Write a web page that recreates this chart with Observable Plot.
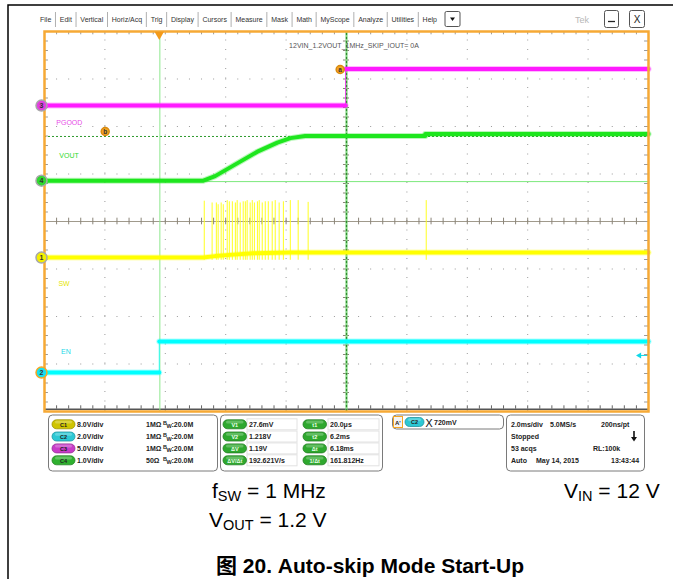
<!DOCTYPE html>
<html><head><meta charset="utf-8">
<script src="https://cdn.jsdelivr.net/npm/d3@7"></script>
<script src="https://cdn.jsdelivr.net/npm/@observablehq/plot@0.6"></script>
<style>
body{margin:0;background:#fff;}
#chart{position:relative;width:673px;height:579px;}
</style>
</head><body><div id="chart"></div>
<script>
// ---------------- data ----------------
const menuItems = ["File","Edit","Vertical","Horiz/Acq","Trig","Display","Cursors","Measure","Mask","Math","MyScope","Analyze","Utilities","Help"];
const scopeTitle = "12VIN_1.2VOUT_1MHz_SKIP_IOUT= 0A";
const channelIds = ["1","2","3","4"];
const channelNames = ["SW","EN","PGOOD","VOUT"];
const voltsPerDiv = [8.0, 2.0, 5.0, 1.0];
const channelPosDiv = [-0.76, -3.18, 2.44, 0.86];
const channelImpedance = ["1MΩ","1MΩ","1MΩ","50Ω"];
const bandwidth = "20.0M";
const timePerDiv = 2.0;          // ms/div
const cursorTimes = [0.02, 6.2]; // ms
const cursorLevelsDiv = [0.84, 1.79];
const triggerLevel = 0.72;       // V on C2

// traces (time in ms, values in volts)
const swTime  = [-3.8, 1.46, 1.85, 2.45, 3.1, 4.3, 16.2];
const swVolts = [0, 0, 0.25, 0.5, 0.75, 0.84, 0.84];
const spikeTimes = [1.49,1.75,1.89,1.95,2.05,2.12,2.25,2.32,2.42,2.52,2.58,2.68,2.78,2.85,2.91,3.01,3.08,3.15,3.25,3.31,3.41,3.51,3.61,3.74,3.84,3.97,4.11,4.34,4.60,4.93,8.84];
const spikePeaks = [9.5,9.2,9.2,8.9,9.2,8.9,9.6,9.4,9.4,9.2,9.6,9.2,9.4,9.4,9.6,9.2,9.6,9.2,9.4,9.6,9.2,9.4,9.4,9.4,9.6,9.2,9.4,9.6,9.6,9.3,9.6];
const enTime  = [-3.8, 0.0, 0.0, 16.2];
const enVolts = [0, 0, 1.31, 1.31];
const pgTime  = [-3.8, 6.17, 6.17, 16.2];
const pgVolts = [0, 0, 3.85, 3.85];
const voutTime  = [-3.8, 1.46, 1.85, 2.45, 3.25, 3.91, 4.34, 4.83, 8.81, 8.81, 16.2];
const voutVolts = [0, 0, 0.095, 0.316, 0.61, 0.80, 0.895, 0.94, 0.94, 0.98, 0.98];

// readouts
const measLabels1 = ["V1","V2","ΔV","ΔV/Δt"];
const measValues1 = ["27.6mV","1.218V","1.19V","192.621V/s"];
const measLabels2 = ["t1","t2","Δt","1/Δt"];
const measValues2 = ["20.0μs","6.2ms","6.18ms","161.812Hz"];
const trigText = "720mV";
const acqLines = [["2.0ms/div","5.0MS/s","200ns/pt"],["Stopped","",""],["53 acqs","","RL:100k"],["Auto","May 14, 2015","13:43:44"]];

// ---------------- setup ----------------
const traceColors = ["#ffff00","#00ffff","#ff1aff","#1ee61e"];
const markerFill  = ["#f4f000","#18e0f0","#e040e0","#30d830"];
const markerRing  = ["#a8a8a8","#f5a623","#a8a8a8","#a8a8a8"];
const pillColors  = ["#cfc400","#2cc8d4","#c83cc8","#2fb02f"];
const chIdx = {sw:0,en:1,pg:2,vout:3};
const toDiv = (c, v) => channelPosDiv[c] + v / voltsPerDiv[c];
// split at repeated times (fast edges) into separate segments
const mk = (c, ts, vs) => {
  let seg = 0;
  return ts.map((t,i) => { if (i > 0 && t === ts[i-1]) seg++; return {t, y: toDiv(c, vs[i]), seg}; });
};
const edges = (data) => data.slice(1).filter((d,i) => d.t === data[i].t).map((d,i) => {
  const prev = data[data.indexOf(d) - 1];
  return {t: d.t, y1: prev.y, y2: d.y};
});

const tDomain = [-5 * timePerDiv + cursorTimes[1], 5 * timePerDiv + cursorTimes[1]];
const tCenter = (tDomain[0] + tDomain[1]) / 2;
const majorT = d3.range(1,10).map(k => tDomain[0] + k*timePerDiv).filter(t => Math.abs(t - tCenter) > 1e-6);
const majorY = [-3,-2,-1,1,2,3];
const minorT = d3.range(0,51).map(k => tDomain[0] + k*timePerDiv/5);
const minorY = d3.range(0,41).map(k => -4 + k*0.2);

const swData = mk(chIdx.sw, swTime, swVolts);
const enData = mk(chIdx.en, enTime, enVolts);
const pgData = mk(chIdx.pg, pgTime, pgVolts);
const voData = mk(chIdx.vout, voutTime, voutVolts);
const spikes = spikeTimes.map((t,i) => ({t, y1: toDiv(0, -0.45), y2: toDiv(0, spikePeaks[i])}));
const markers = channelIds.map((n,i) => ({n, y: channelPosDiv[i], fill: markerFill[i], ring: markerRing[i], col: traceColors[i]}));
const labels = [
  {t:-3.41, y:2.08, s:channelNames[2], c:"#e84ce8"},
  {t:-3.31, y:1.39, s:channelNames[3], c:"#2ed82e"},
  {t:-3.34, y:-1.31, s:channelNames[0], c:"#e6e600"},
  {t:-3.25, y:-2.74, s:channelNames[1], c:"#20d8e8"}
];
const trigDiv = toDiv(chIdx.en, triggerLevel);

const F = "Liberation Sans, Arial, Helvetica, sans-serif";
const tickLen = 0.07;
const tickLenT = 0.1;

const trace = (data, color) => [
  Plot.ruleX(edges(data), {x: "t", y1: "y1", y2: "y2", stroke: color, strokeWidth: 1, strokeOpacity: 0.8}),
  Plot.line(data, {x:"t", y:"y", z:"seg", stroke: color, strokeWidth: 6, strokeOpacity: 0.3}),
  Plot.line(data, {x:"t", y:"y", z:"seg", stroke: color, strokeWidth: 4})
];

const chart = Plot.plot({
  width: 673, height: 579,
  marginLeft: 44, marginRight: 25, marginTop: 31, marginBottom: 168,
  style: {background: "white", overflow: "visible", fontFamily: F},
  x: {domain: tDomain, axis: null},
  y: {domain: [-4, 4], axis: null},
  marks: [
    // dotted graticule
    Plot.ruleX(majorT, {x: d => d, y1: () => -4, y2: () => 4, stroke: "#9a9a9a", strokeDasharray: "1,8.5"}),
    Plot.ruleY(majorY, {y: d => d, x1: () => tDomain[0], x2: () => tDomain[1], stroke: "#9a9a9a", strokeDasharray: "1,11.08"}),
    // center lines
    Plot.ruleY([0], {y: d => d, x1: () => tDomain[0], x2: () => tDomain[1], stroke: "#a09a8c", strokeWidth: 1.2}),
    Plot.ruleX([tCenter], {x: d => d, y1: () => -4, y2: () => 4, stroke: "#a09a8c", strokeWidth: 1.2}),
    Plot.ruleX(minorT, {x: d => d, y1: () => -tickLen, y2: () => tickLen, stroke: "#8a8478"}),
    Plot.ruleY(minorY, {y: d => d, x1: () => tCenter - tickLenT, x2: () => tCenter + tickLenT, stroke: "#8a8478"}),
    // border ticks
    Plot.ruleX(minorT, {x: d => d, y1: () => 4, y2: () => 4 - tickLen, stroke: "#999"}),
    Plot.ruleX(minorT, {x: d => d, y1: () => -3.95, y2: () => -3.95 + tickLen, stroke: "#666"}),
    Plot.ruleY([-3.95], {y: d => d, x1: () => tDomain[0], x2: () => tDomain[1], stroke: "#555", strokeWidth: 1.5}),
    Plot.ruleY(minorY, {y: d => d, x1: () => tDomain[0], x2: () => tDomain[0] + tickLenT*1.3, stroke: "#999"}),
    Plot.ruleY(minorY, {y: d => d, x1: () => tDomain[1], x2: () => tDomain[1] - tickLenT*1.3, stroke: "#999"}),
    // cursors
    Plot.ruleY([cursorLevelsDiv[0]], {y: d => d, x1: () => tDomain[0], x2: () => tDomain[1], stroke: "#7ce87c", strokeWidth: 1}),
    Plot.ruleY([cursorLevelsDiv[1]], {y: d => d, x1: () => tDomain[0], x2: () => tDomain[1], stroke: "#2e9a2e", strokeWidth: 1, strokeDasharray: "2,2"}),
    Plot.ruleX([cursorTimes[0]], {x: d => d, y1: () => -4, y2: () => 4, stroke: "#8ee88e", strokeWidth: 1}),
    Plot.ruleX([cursorTimes[1]], {x: d => d, y1: () => -4, y2: () => 4, stroke: "#7ed87e", strokeWidth: 2}),
    Plot.ruleX([cursorTimes[1]], {x: d => d, y1: () => -4, y2: () => 4, stroke: "#2e8a2e", strokeWidth: 1.2, strokeDasharray: "2,2"}),
    // spikes
    Plot.ruleX(spikes, {x: "t", y1: "y1", y2: "y2", stroke: "#ffff20", strokeWidth: 1}),
    // traces
    ...trace(pgData, traceColors[2]),
    ...trace(voData, traceColors[3]),
    ...trace(swData, traceColors[0]),
    ...trace(enData, traceColors[1]),
    // channel labels
    Plot.text(labels, {x: "t", y: "y", text: "s", fill: "c", fontSize: 7, textAnchor: "start"}),
    Plot.text([scopeTitle], {x: () => 4.3, y: () => 3.71, text: d => d, fill: "#555", fontSize: 7, textAnchor: "start"}),
    // a / b cursor markers
    Plot.dot(["a"], {x: () => 5.99, y: () => 3.2, r: 4, fill: "#f5a623", stroke: "#d88a10"}),
    Plot.text(["a"], {x: () => 5.99, y: () => 3.2, text: d => d, fontSize: 6.5, fontWeight: "bold", fill: "#333"}),
    Plot.dot(["b"], {x: () => -1.79, y: () => 1.895, r: 4, fill: "#f5a623", stroke: "#d88a10"}),
    Plot.text(["b"], {x: () => -1.79, y: () => 1.895, text: d => d, fontSize: 6.5, fontWeight: "bold", fill: "#333"}),
    // trigger level arrow (C2)
    Plot.ruleY([trigDiv], {y: d => d, x1: () => tDomain[1] - 0.35, x2: () => tDomain[1], stroke: "#10d8e8", strokeWidth: 1}),
    Plot.dot([trigDiv], {x: () => tDomain[1] - 0.3, y: d => d, symbol: "triangle", rotate: -90, r: 2.2, fill: "#10d8e8", stroke: "none"}),
    // frame
    Plot.frame({stroke: "#f6a935", strokeWidth: 2.5}),
    // trigger position marker
    Plot.dot([0], {x: d => d, y: () => 4, dy: 3, symbol: "triangle", rotate: 180, r: 3.5, fill: "#f39a1a", stroke: "none"}),
    // channel markers
    Plot.dot(markers, {x: () => tDomain[0], y: "y", dx: 3, symbol: "triangle", rotate: 90, r: 2, fill: "col", stroke: "none"}),
    Plot.dot(markers, {x: () => tDomain[0], y: "y", dx: -3, r: 5.5, fill: "fill", stroke: "ring", strokeWidth: 1.5}),
    Plot.text(markers, {x: () => tDomain[0], y: "y", dx: -3, text: "n", fontSize: 7, fontWeight: "bold", fill: "#333"})
  ]
});
document.getElementById("chart").append(chart);

// ---------------- surrounding scope chrome ----------------
const svg = d3.select(chart);
const g = svg.append("g").attr("font-family", F).attr("text-anchor", "start");
function T(x, y, s, o = {}) {
  const t = g.append("text").attr("x", x).attr("y", y).text(s)
    .attr("font-size", o.size || 7).attr("fill", o.fill || "#222")
    .attr("font-weight", o.bold ? "bold" : "normal")
    .attr("text-anchor", o.anchor || "start");
  if (o.family) t.attr("font-family", o.family);
  return t;
}
// outer black frame
g.append("path").attr("d", "M8,579 V5 H673").attr("fill", "none").attr("stroke", "#000").attr("stroke-width", 1.5);

// menu bar
let mx = 40;
menuItems.forEach((s, i) => {
  const t = T(mx, 22, s, {size: 7, fill: "#333"});
  const w = t.node().getComputedTextLength();
  mx += w;
  if (i < menuItems.length - 1) {
    g.append("line").attr("x1", mx + 4.2).attr("x2", mx + 4.2).attr("y1", 12).attr("y2", 27).attr("stroke", "#b0b0b0");
  }
  mx += 8.5;
});
// dropdown box
g.append("rect").attr("x", 445).attr("y", 11.5).attr("width", 15).attr("height", 15).attr("rx", 1.5).attr("fill", "#fff").attr("stroke", "#555");
g.append("path").attr("d", "M450,17.5 L455,17.5 L452.5,21 Z").attr("fill", "#111");
T(575, 23, "Tek", {size: 9, fill: "#b8b8b8"});
g.append("rect").attr("x", 604.5).attr("y", 10.5).attr("width", 14).attr("height", 17).attr("rx", 2).attr("fill", "#fff").attr("stroke", "#555");
g.append("line").attr("x1", 608).attr("x2", 615).attr("y1", 21.5).attr("y2", 21.5).attr("stroke", "#222").attr("stroke-width", 1.3);
g.append("rect").attr("x", 629.5).attr("y", 10.5).attr("width", 15).attr("height", 17).attr("rx", 2).attr("fill", "#fff").attr("stroke", "#555");
T(637, 23, "X", {size: 10, fill: "#222", anchor: "middle"});

// readout boxes
function box(x, y, w, h) {
  g.append("rect").attr("x", x).attr("y", y).attr("width", w).attr("height", h).attr("rx", 4)
    .attr("fill", "#fff").attr("stroke", "#7a7a7a").attr("stroke-width", 1);
}
function pill(x, y, w, color, label, tc) {
  g.append("rect").attr("x", x).attr("y", y - 4.5).attr("width", w).attr("height", 9).attr("rx", 4.5)
    .attr("fill", color).attr("stroke", d3.color(color).darker(0.8)).attr("stroke-width", 0.8);
  g.append("rect").attr("x", x + 3).attr("y", y - 3.8).attr("width", w - 6).attr("height", 3).attr("rx", 1.5)
    .attr("fill", "#fff").attr("opacity", 0.25);
  T(x + w / 2, y + 2.2, label, {size: 5.5, bold: true, fill: tc, anchor: "middle"});
}
const rowY = [424.3, 436.5, 448.4, 460.3];
box(48.5, 415, 169, 56);
box(220.5, 415, 162, 56);
box(392.5, 415, 111, 14);
box(506.5, 415, 138, 56);

channelIds.forEach((n, i) => {
  const y = rowY[i];
  pill(52, y, 23, pillColors[i], "C" + n, "#222");
  T(77, y + 2.5, voltsPerDiv[i].toFixed(1) + "V/div", {bold: true});
  T(146, y + 2.5, channelImpedance[i], {bold: true});
  T(163, y + 0.5, "B", {size: 5.5, bold: true});
  T(166.5, y + 4, "W", {size: 5.5, bold: true});
  T(171.5, y + 2.5, ":" + bandwidth, {bold: true});
});
measLabels1.forEach((s, i) => {
  const y = rowY[i];
  g.append("rect").attr("x", 247).attr("y", y - 5.5).attr("width", 50).attr("height", 11).attr("fill", "#fff").attr("stroke", "#e2e2e2");
  g.append("rect").attr("x", 328).attr("y", y - 5.5).attr("width", 51).attr("height", 11).attr("fill", "#fff").attr("stroke", "#e2e2e2");
  pill(223, y, 23.5, "#2ea82e", s, "#eaffea");
  T(249, y + 2.5, measValues1[i], {bold: true});
  pill(303, y, 23.5, "#2ea82e", measLabels2[i], "#eaffea");
  T(330, y + 2.5, measValues2[i], {bold: true});
});
// trigger readout
g.append("rect").attr("x", 393.5).attr("y", 416.5).attr("width", 9).attr("height", 11).attr("fill", "#f4f4f4").attr("stroke", "#f5a623");
T(395, 425, "A'", {size: 6, bold: true});
pill(405, 422, 19, pillColors[1], "C2", "#222");
T(429, 426.5, "X", {size: 11, fill: "#222", anchor: "middle", family: "DejaVu Sans, sans-serif"});
T(434, 425, trigText, {bold: true});
// acquisition readout
const acqX = [511, 550, 601];
acqLines.forEach((row, i) => {
  row.forEach((s, j) => { if (s) T(i === 3 && j === 1 ? 536 : (i === 2 && j === 2 ? 593 : (i === 3 && j === 2 ? 611 : acqX[j])), rowY[i] + 2.5, s, {bold: true}); });
});
g.append("line").attr("x1", 634).attr("x2", 634).attr("y1", 431).attr("y2", 438).attr("stroke", "#111").attr("stroke-width", 1.6);
g.append("path").attr("d", "M631,437 L637,437 L634,441.5 Z").attr("fill", "#111");

// captions
function sub(x, y, main, s, rest) {
  const t = g.append("text").attr("x", x).attr("y", y).attr("font-size", 21).attr("fill", "#000").attr("text-anchor", "start");
  t.append("tspan").text(main);
  t.append("tspan").attr("font-size", 14.5).attr("dy", 3).text(s);
  t.append("tspan").attr("dy", -3).text(rest);
}
sub(212, 498, "f", "SW", " = 1 MHz");
sub(209, 527, "V", "OUT", " = 1.2 V");
sub(564, 498, "V", "IN", " = 12 V");
const cap = g.append("text").attr("x", 216).attr("y", 573).attr("font-size", 21).attr("font-weight", "bold").attr("fill", "#000").attr("text-anchor", "start");
cap.append("tspan").attr("font-family", "Noto Sans CJK SC, sans-serif").text("图");
cap.append("tspan").text(" 20. Auto-skip Mode Start-Up");
</script>
</body></html>
